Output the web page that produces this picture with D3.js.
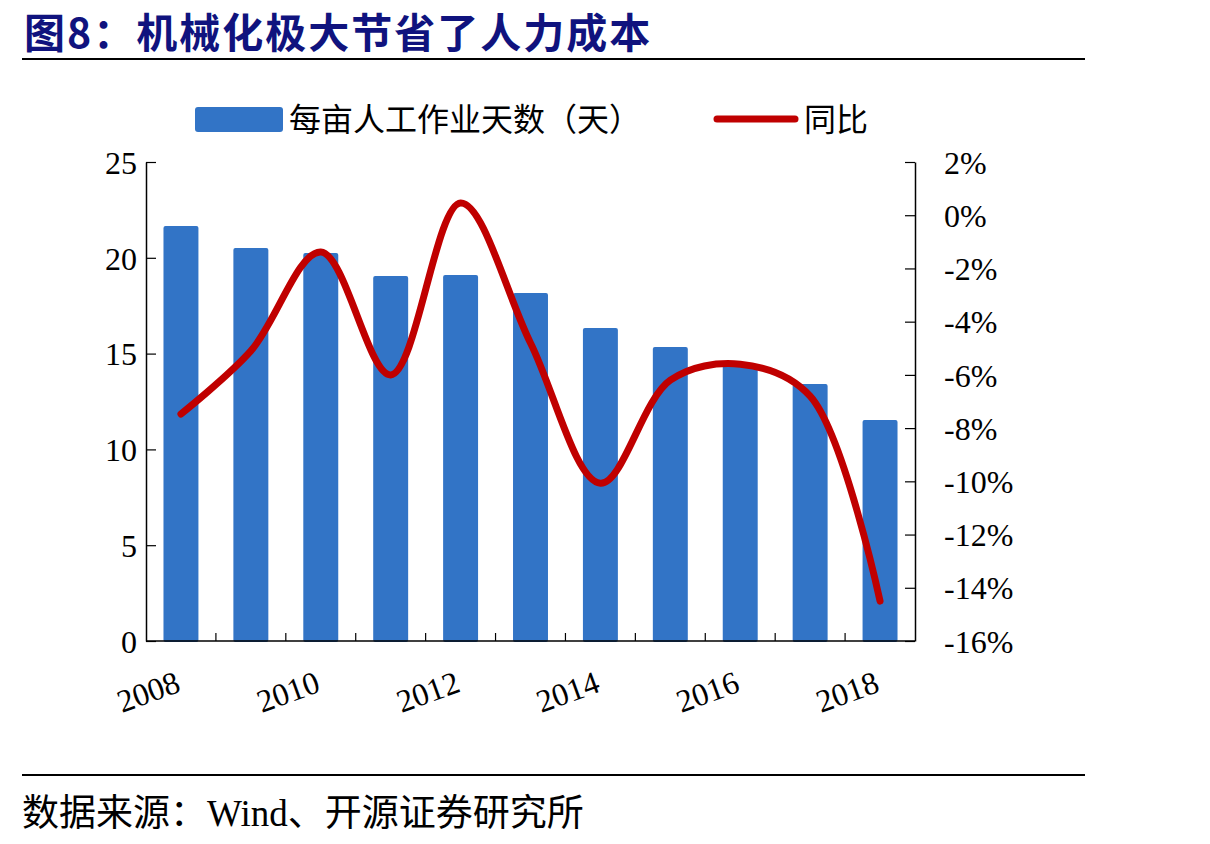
<!DOCTYPE html>
<html lang="zh">
<head>
<meta charset="UTF-8">
<title>机械化极大节省了人力成本</title>
<script src="https://d3js.org/d3.v7.min.js"></script>
<style>
    body { margin: 0; background: #fff; }
    .tick text { font-family: 'Liberation Serif', serif; font-size: 32px; fill: #000; }
    .cjk { font-family: 'Noto Sans CJK SC', sans-serif; }
</style>
</head>
<body>
<div id="chart"></div>
<script>
// data
const years = [2008, 2009, 2010, 2011, 2012, 2013, 2014, 2015, 2016, 2017, 2018];
const days = [21.66, 20.51, 20.25, 19.05, 19.1, 18.16, 16.34, 15.34, 14.46, 13.41, 11.53];
const yoy = [-7.47, -5.1, -1.38, -6.0, 0.46, -4.8, -10.07, -6.2, -5.6, -6.8, -14.5];
const leftTicks = [0, 5, 10, 15, 20, 25];
const rightTicks = [2, 0, -2, -4, -6, -8, -10, -12, -14, -16];
const yearLabels = [2008, 2010, 2012, 2014, 2016, 2018];

const W = 1210, H = 844;
const plot = { left: 146, right: 915, top: 162, bottom: 641 };

const svg = d3.select("#chart").append("svg")
    .attr("width", W).attr("height", H);

// title + rules
svg.append("text")
    .attr("class", "cjk")
    .attr("x", 24).attr("y", 48)
    .attr("font-size", 41).attr("font-weight", "bold")
    .attr("letter-spacing", 2)
    .attr("fill", "#10137e")
    .text("图8：机械化极大节省了人力成本");

svg.append("line").attr("x1", 22).attr("x2", 1085).attr("y1", 59).attr("y2", 59)
    .attr("stroke", "#000").attr("stroke-width", 2);
svg.append("line").attr("x1", 22).attr("x2", 1085).attr("y1", 775).attr("y2", 775)
    .attr("stroke", "#000").attr("stroke-width", 2);

const src = svg.append("text")
    .attr("class", "cjk")
    .attr("x", 22).attr("y", 826)
    .attr("font-size", 37)
    .attr("fill", "#000");
src.append("tspan").text("数据来源：");
src.append("tspan").attr("font-family", "'Liberation Serif', serif").text("Wind");
src.append("tspan").text("、开源证券研究所");

// scales
const x = d3.scaleBand().domain(years).range([plot.left, plot.right]).paddingInner(0.5).paddingOuter(0.25);
const yL = d3.scaleLinear().domain([0, 25]).range([plot.bottom, plot.top]);
const yR = d3.scaleLinear().domain([-16, 2]).range([plot.bottom, plot.top]);

// bars
svg.append("g").selectAll("rect")
    .data(years)
    .join("rect")
    .attr("x", (d) => x(d))
    .attr("width", x.bandwidth())
    .attr("y", (d, i) => yL(days[i]))
    .attr("height", (d, i) => yL(0) - yL(days[i]) + 1)
    .attr("rx", 2)
    .attr("fill", "#3274c6");

// axes
const leftAxis = svg.append("g")
    .attr("transform", `translate(${plot.left},0)`)
    .call(d3.axisLeft(yL).tickValues(leftTicks).tickSizeInner(-10).tickSizeOuter(0).tickPadding(9));

const rightAxis = svg.append("g")
    .attr("transform", `translate(${plot.right},0)`)
    .call(d3.axisRight(yR).tickValues(rightTicks).tickSizeInner(-10).tickSizeOuter(0).tickPadding(29)
        .tickFormat((d) => d + "%"));

// x axis: ticks at band boundaries
const step = x.step();
const bounds = years.slice(1).map((d) => x(d) - (step - x.bandwidth()) / 2);
const xAxis = svg.append("g");
xAxis.append("line")
    .attr("x1", plot.left).attr("x2", plot.right)
    .attr("y1", plot.bottom).attr("y2", plot.bottom)
    .attr("stroke", "#000").attr("stroke-width", 1.5);
xAxis.selectAll("line.t")
    .data(bounds)
    .join("line")
    .attr("class", "t")
    .attr("x1", (d) => d).attr("x2", (d) => d)
    .attr("y1", plot.bottom).attr("y2", plot.bottom - 8)
    .attr("stroke", "#000").attr("stroke-width", 1.2);
xAxis.selectAll("text")
    .data(yearLabels)
    .join("text")
    .attr("font-family", "'Liberation Serif', serif")
    .attr("font-size", 32)
    .attr("text-anchor", "middle")
    .attr("transform", (d) => {
        const cx = x(d) + x.bandwidth() / 2 - 29;
        return `translate(${cx},${plot.bottom + 61}) rotate(-20)`;
    })
    .text((d) => d);

[leftAxis, rightAxis].forEach((a) => {
    a.select(".domain").attr("stroke", "#000").attr("stroke-width", 1.5);
    a.selectAll(".tick line").attr("stroke", "#000").attr("stroke-width", 1.2);
});
leftAxis.selectAll(".tick text").attr("dy", "0.35em");
rightAxis.selectAll(".tick text").attr("dy", "0.35em");

// line
const line = d3.line()
    .x((d, i) => x(years[i]) + x.bandwidth() / 2)
    .y((d) => yR(d))
    .curve(d3.curveCatmullRom.alpha(0.5));

svg.append("path")
    .datum(yoy)
    .attr("d", line)
    .attr("fill", "none")
    .attr("stroke", "#c00000")
    .attr("stroke-width", 7)
    .attr("stroke-linecap", "round");

// legend
const lg = svg.append("g");
lg.append("rect").attr("x", 195).attr("y", 107).attr("width", 88).attr("height", 25)
    .attr("rx", 3).attr("fill", "#3274c6");
lg.append("text").attr("class", "cjk").attr("x", 289).attr("y", 131)
    .attr("font-size", 32).text("每亩人工作业天数（天）");
lg.append("line").attr("x1", 717).attr("x2", 795).attr("y1", 119).attr("y2", 119)
    .attr("stroke", "#c00000").attr("stroke-width", 7).attr("stroke-linecap", "round");
lg.append("text").attr("class", "cjk").attr("x", 804).attr("y", 131)
    .attr("font-size", 32).text("同比");
</script>
</body>
</html>
